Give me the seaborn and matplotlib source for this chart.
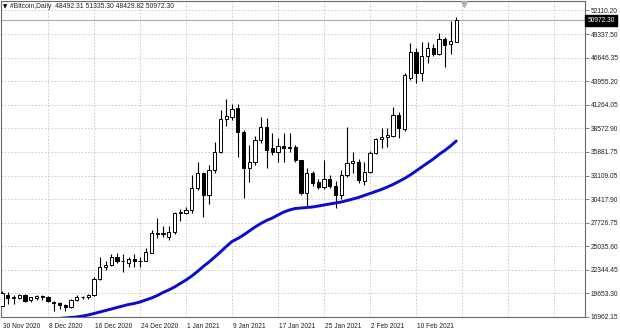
import numpy as np
import pandas as pd
import matplotlib
matplotlib.use("Agg")
import matplotlib.pyplot as plt
import matplotlib.transforms as mtransforms
import seaborn as sns

# ---------------- data (daily candles, 30 Nov 2020 .. 17 Feb 2021) ----------------
opens = [18190, 19400, 19150, 19100, 19450, 18880, 19150, 19360, 19180, 18650,
         18500, 18300, 18040, 18900, 19230, 19200, 19430, 21300, 22680, 22950,
         23850, 23400, 23100, 23550, 23300, 23400, 24300, 26530, 26450, 26140,
         26710, 28890, 28890, 29200, 31690, 33480, 30920, 33790, 35890, 39620,
         39900, 40870, 38190, 33990, 34740, 37230, 38760, 36280, 35890, 36540,
         36300, 36460, 34940, 31120, 33410, 32450, 31880, 32730, 31960, 30920,
         33220, 34560, 34740, 32560, 33600, 35710, 37310, 37610, 37730, 40100,
         38460, 44300, 47360, 44950, 46870, 47820, 47060, 48780, 48210, 48492.31]
highs = [19860, 19750, 19420, 19620, 19550, 19250, 19420, 19420, 19300, 18800,
         18600, 18400, 19000, 19420, 19350, 19570, 21560, 23770, 23300, 24170,
         24290, 24100, 23850, 24100, 23790, 24790, 26900, 28250, 27400, 27370,
         28990, 29300, 29600, 33220, 34740, 33600, 34400, 36950, 40650, 41930,
         41360, 41400, 38400, 36660, 37700, 39900, 39720, 38010, 37430, 38010,
         38010, 36660, 34940, 33990, 33700, 32800, 34940, 33200, 32570, 33800,
         38760, 35890, 35100, 34740, 36000, 37500, 38580, 38580, 41060, 40480,
         44920, 48330, 47780, 48510, 48510, 48300, 49540, 49080, 50920, 51335.30]
lows = [18180, 18400, 18420, 18950, 18600, 18600, 18900, 18920, 18600, 17650,
        17900, 17600, 17950, 18800, 19050, 19050, 19300, 21200, 22350, 22770,
        23080, 22100, 22700, 22700, 22700, 23300, 24250, 25960, 26100, 25800,
        26500, 27900, 28700, 28900, 31500, 28430, 29900, 33400, 35750, 38800,
        39500, 35320, 30550, 32450, 34400, 36850, 33990, 35510, 34740, 34740,
        35890, 34740, 30950, 29700, 32000, 31650, 31650, 31700, 29400, 30500,
        33000, 33450, 32350, 32070, 33450, 35600, 36280, 36460, 37610, 37430,
        38260, 44110, 43740, 43970, 46030, 46870, 46980, 45640, 47060, 48429.82]
closes = [19650, 19060, 19220, 19450, 18800, 19180, 19360, 19200, 18720, 18500,
          18300, 18050, 18900, 19230, 19200, 19430, 21300, 22700, 22950, 23850,
          23400, 23300, 23550, 23300, 23400, 24420, 26530, 26450, 26550, 26710,
          28890, 28950, 29200, 31690, 33480, 30920, 33790, 35890, 39620, 39990,
          40790, 38190, 33990, 34740, 37230, 38760, 36090, 35890, 36540, 36280,
          36380, 34940, 31120, 33410, 32260, 31880, 32730, 31960, 30920, 33220,
          34560, 34800, 32640, 33600, 35710, 37310, 37610, 37810, 40100, 38580,
          44690, 47360, 44880, 46870, 47820, 47100, 48780, 48130, 48590, 50972.30]

# moving average (visible from the 10th bar on)
ma_start = 9
ma_values = [16700, 16760, 16820, 16870, 16930, 17040, 17160, 17330, 17500, 17670,
             17840, 18020, 18190, 18360, 18480, 18650, 18880, 19110, 19390, 19740,
             20030, 20370, 20770, 21170, 21630, 22150, 22720, 23240, 23810, 24390,
             25020, 25590, 25930, 26330, 26790, 27250, 27650, 28000, 28280, 28630,
             28970, 29200, 29380, 29430, 29490, 29550, 29660, 29780, 29890, 30010,
             30120, 30290, 30460, 30640, 30870, 31100, 31330, 31560, 31840, 32130,
             32470, 32820, 33220, 33680, 34140, 34600, 35050, 35570, 36030, 36540,
             37120]

date_labels = ["30 Nov 2020", "8 Dec 2020", "16 Dec 2020", "24 Dec 2020", "1 Jan 2021",
               "9 Jan 2021", "17 Jan 2021", "25 Jan 2021", "2 Feb 2021", "10 Feb 2021"]
price_ticks = [52110.20, 49337.50, 46646.35, 43955.20, 41264.05, 38572.90, 35881.75,
               33109.05, 30417.90, 27726.75, 25035.60, 22344.45, 19653.30, 16962.15]
last_price = 50972.30
header = "#Bitcoin,Daily  48492.31 51335.30 48429.82 50972.30"

# ---------------- figure ----------------
sns.set_style("white")
plt.rcParams["font.family"] = ["Liberation Sans", "DejaVu Sans"]

W, H = 620, 332
fig = plt.figure(figsize=(W / 100, H / 100), dpi=100)
fig.patch.set_facecolor("white")
ax = fig.add_axes([1 / W, (H - 317) / H, 584 / W, 316 / H])
ax.set_facecolor("white")

n = len(opens)
idx = np.arange(n)
df = pd.DataFrame({"i": idx, "open": opens, "high": highs, "low": lows, "close": closes})
df["bull"] = df["close"] >= df["open"]
df["bottom"] = df[["open", "close"]].min(axis=1)
df["height"] = (df["close"] - df["open"]).abs().clip(lower=60)

px = 5.75
xmin = -1 / px
ax.set_xlim(xmin, xmin + 584 / px)
ybot = 16962.15 - 0.3 * 114.72
ax.set_ylim(ybot, ybot + 316 * 114.72)

# grid
grid_kw = dict(color="#c4c4c4", lw=0.6, ls=(0, (2, 2)), zorder=0)
for p in price_ticks:
    ax.axhline(p, **grid_kw)
for g in range(8, 104, 8):
    ax.axvline(g, **grid_kw)

# current price line
ax.axhline(last_price, color="#a8a8a8", lw=0.8, zorder=1)

# candles
ax.vlines(df["i"], df["low"], df["high"], color="black", lw=0.8, zorder=2)
ax.bar(df["i"], df["height"], bottom=df["bottom"], width=0.55,
       color=np.where(df["bull"], "white", "black"), edgecolor="black",
       linewidth=0.7, zorder=3)

# moving average
ma_df = pd.DataFrame({"i": np.arange(ma_start, ma_start + len(ma_values)), "ma": ma_values})
sns.lineplot(data=ma_df, x="i", y="ma", ax=ax, color="#0a0ad2", lw=2.1, zorder=4)

# axes cosmetics
for s in ax.spines.values():
    s.set_color("#6a6a6a")
    s.set_linewidth(0.8)
ax.yaxis.tick_right()
ax.set_yticks(price_ticks)
ax.set_yticklabels([f"{p:.2f}" for p in price_ticks])
ax.set_xticks(range(0, 8 * len(date_labels), 8))
ax.set_xticklabels(date_labels)
ax.tick_params(axis="both", direction="out", length=3, width=0.6, color="#6a6a6a",
               labelcolor="#202020", pad=1.2)
ax.tick_params(axis="y", labelsize=4.8)
ax.tick_params(axis="x", labelsize=4.8)
for lab in ax.get_xticklabels():
    lab.set_ha("left")
    lab.set_transform(lab.get_transform() + mtransforms.ScaledTranslation(0.5 / 72, 0, fig.dpi_scale_trans))
ax.set_xlabel("")
ax.set_ylabel("")

# last price label on the scale
trans = mtransforms.blended_transform_factory(ax.transAxes, ax.transData)
ax.text(1.004, last_price, "50972.30", transform=trans, ha="left", va="center",
        fontsize=4.8, color="white", zorder=6, clip_on=False,
        bbox=dict(boxstyle="square,pad=0.3", facecolor="black", edgecolor="black"))

# chart-shift marker
ax.plot([80.3], [ybot + 313.5 * 114.72], marker="v", color="#b0b0b0", ms=4, clip_on=False, zorder=6)

# header
fig.text(3 / W, 1 - 6.5 / H, "▼", fontsize=4, va="center", ha="left", color="black",
         family=["DejaVu Sans"])
fig.text(10 / W, 1 - 6.5 / H, header, fontsize=4.9, va="center", ha="left", color="#202020")

fig.savefig("out.png", dpi=100, facecolor="white")
